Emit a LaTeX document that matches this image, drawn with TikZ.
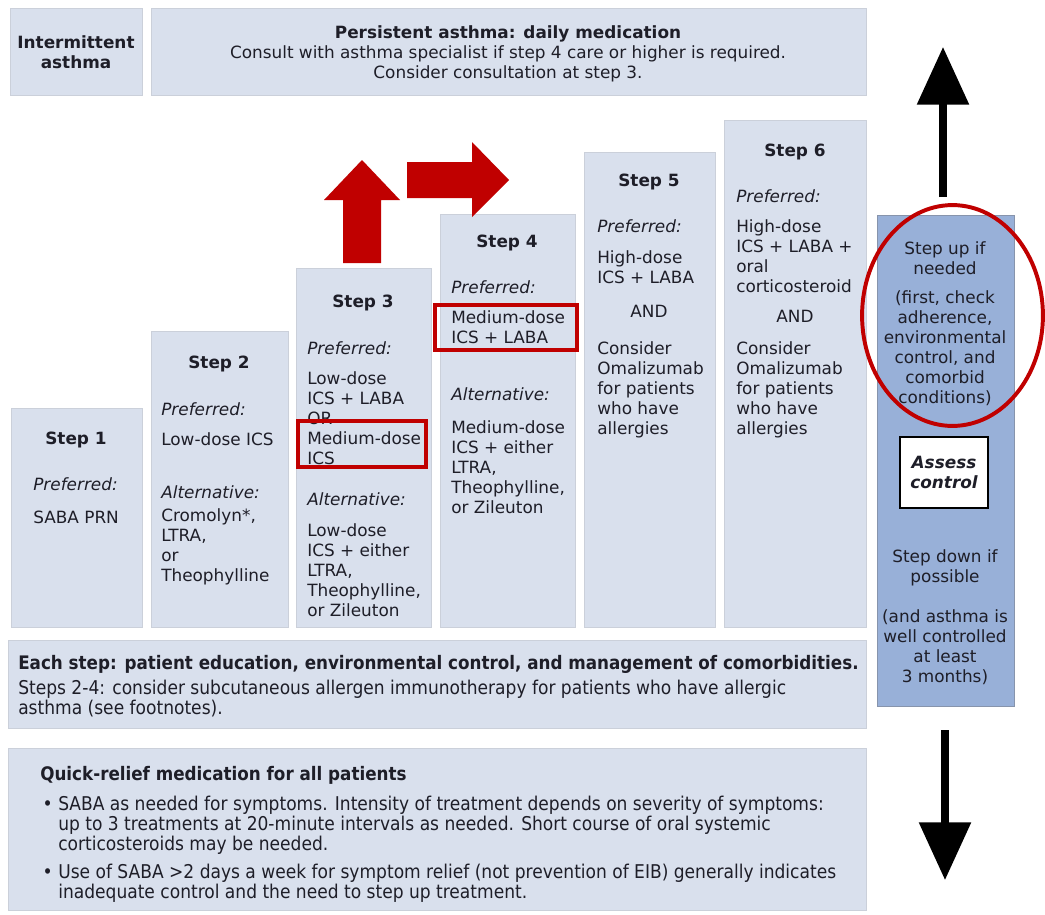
\documentclass[tikz,border=0pt]{standalone}
\usepackage{fontspec}
\setmainfont{DejaVu Sans}
\newfontfamily\condfont{DejaVu Sans Condensed}
\usetikzlibrary{arrows.meta}
\definecolor{boxcolor}{RGB}{217,224,237}
\definecolor{boxedge}{RGB}{203,208,218}
\definecolor{assesscolor}{RGB}{152,176,216}
\definecolor{assessedge}{RGB}{135,148,172}
\definecolor{labelcolor}{RGB}{30,30,40}
\definecolor{markcolor}{RGB}{192,0,0}
\newcommand{\stepsize}{\fontsize{12}{14.3}\selectfont}
\newcommand{\notesize}{\condfont\fontsize{13.5}{14.3}\selectfont}
\newcommand{\noteboldsize}{\condfont\bfseries\fontsize{13.25}{14.3}\selectfont}
\tikzset{
panel/.style={
  fill=boxcolor,
  draw=boxedge,
  line width=0.5pt
},
steptitle/.style={
  font=\bfseries\stepsize,
  text=labelcolor,
  inner sep=0pt,
  anchor=north
},
stephead/.style={
  font=\itshape\stepsize,
  text=labelcolor,
  inner sep=0pt,
  anchor=north west
},
steptext/.style={
  font=\stepsize,
  text=labelcolor,
  inner sep=0pt,
  anchor=north west,
  align=left
},
sidetext/.style={
  font=\stepsize,
  text=labelcolor,
  inner sep=0pt,
  anchor=north,
  align=center
},
notetext/.style={
  font=\notesize,
  text=labelcolor,
  inner sep=0pt,
  anchor=north west,
  align=left
},
highlight/.style={
  draw=markcolor,
  line width=2.8pt
},
blockarrow/.style={
  fill=markcolor
},
bigarrow/.style={
  -{Triangle[length=41pt,width=36pt]},
  line width=5pt,
  draw=black
}
}

\begin{document}
\begin{tikzpicture}[x=0.025cm, y=-0.025cm]
\useasboundingbox (0,0) rectangle (1045,914);
\fill[white] (0,0) rectangle (1045,914);

% header row
\path[panel] (10,8) rectangle (142,95);
\path[panel] (151,8) rectangle (866,95);
\node[sidetext, font=\bfseries\stepsize] (intermittent) at (76,35) {Intermittent\\asthma};
\node[sidetext] (persistent) at (508,25) {\textbf{Persistent asthma: daily medication}\\Consult with asthma specialist if step 4 care or higher is required.\\Consider consultation at step 3.};

% the six steps
\path[panel] (11,408) rectangle (142,627);
\path[panel] (151,331) rectangle (288,627);
\path[panel] (296,268) rectangle (431,627);
\path[panel] (440,214) rectangle (575,627);
\path[panel] (584,152) rectangle (715,627);
\path[panel] (724,120) rectangle (866,627);

\node[steptitle] (s1title) at (76,432) {Step 1};
\node[stephead] (s1pref) at (33,477) {Preferred:};
\node[steptext] (s1text) at (33,511) {SABA PRN};

\node[steptitle] (s2title) at (219,356) {Step 2};
\node[stephead] (s2pref) at (161,402) {Preferred:};
\node[steptext] (s2text) at (161,432) {Low-dose ICS};
\node[stephead] (s2alt) at (161,485) {Alternative:};
\node[steptext] (s2alttext) at (161,508) {Cromolyn*,\\LTRA,\\or\\Theophylline};

\node[steptitle] (s3title) at (363,295) {Step 3};
\node[stephead] (s3pref) at (307,341) {Preferred:};
\node[steptext] (s3text) at (307,371) {Low-dose\\ICS + LABA\\OR\\Medium-dose\\ICS};
\node[stephead] (s3alt) at (307,492) {Alternative:};
\node[steptext] (s3alttext) at (307,523) {Low-dose\\ICS + either\\LTRA,\\Theophylline,\\or Zileuton};

\node[steptitle] (s4title) at (507,235) {Step 4};
\node[stephead] (s4pref) at (451,280) {Preferred:};
\node[steptext] (s4text) at (451,310) {Medium-dose\\ICS + LABA};
\node[stephead] (s4alt) at (451,387) {Alternative:};
\node[steptext] (s4alttext) at (451,420) {Medium-dose\\ICS + either\\LTRA,\\Theophylline,\\or Zileuton};

\node[steptitle] (s5title) at (649,174) {Step 5};
\node[stephead] (s5pref) at (597,219) {Preferred:};
\node[steptext] (s5text) at (597,250) {High-dose\\ICS + LABA};
\node[steptitle, font=\stepsize] (s5and) at (649,305) {AND};
\node[steptext] (s5extra) at (597,341) {Consider\\Omalizumab\\for patients\\who have\\allergies};

\node[steptitle] (s6title) at (795,144) {Step 6};
\node[stephead] (s6pref) at (736,189) {Preferred:};
\node[steptext] (s6text) at (736,219) {High-dose\\ICS + LABA +\\oral\\corticosteroid};
\node[steptitle, font=\stepsize] (s6and) at (795,310) {AND};
\node[steptext] (s6extra) at (736,341) {Consider\\Omalizumab\\for patients\\who have\\allergies};

% notes below the steps
\path[panel] (8,640) rectangle (866,728);
\node[notetext, font=\noteboldsize] (eachstep) at (18,655) {Each step: patient education, environmental control, and management of comorbidities.};
\node[notetext] (immuno) at (18,680) {Steps 2-4: consider subcutaneous allergen immunotherapy for patients who have allergic\\asthma (see footnotes).};

\path[panel] (8,748) rectangle (866,910);
\node[notetext, font=\noteboldsize] (quickrelief) at (40,766) {Quick-relief medication for all patients};
\node[notetext] (saba1) at (58,796) {\llap{\textbullet\hspace{4pt}}SABA as needed for symptoms. Intensity of treatment depends on severity of symptoms:\\up to 3 treatments at 20-minute intervals as needed. Short course of oral systemic\\corticosteroids may be needed.};
\node[notetext] (saba2) at (58,864) {\llap{\textbullet\hspace{4pt}}Use of SABA >2 days a week for symptom relief (not prevention of EIB) generally indicates\\inadequate control and the need to step up treatment.};

% assess control column
\path[fill=assesscolor, draw=assessedge, line width=0.5pt] (877,215) rectangle (1014,706);
\node[sidetext] (stepup) at (945,241) {Step up if\\needed};
\node[sidetext] (stepupnote) at (945,290) {(first, check\\adherence,\\environmental\\control, and\\comorbid\\conditions)};
\node[draw=black, fill=white, line width=1pt, minimum width=2.2cm, minimum height=1.775cm, align=center, inner sep=0pt,
  font=\bfseries\itshape\stepsize, text=labelcolor] (assess) at (944,472.5) {Assess\\control};
\node[sidetext] (stepdown) at (945,549) {Step down if\\possible};
\node[sidetext] (stepdownnote) at (945,609) {(and asthma is\\well controlled\\at least\\3 months)};

% red marks
\draw[highlight] (298,421) rectangle (426,467);
\draw[highlight] (435,305) rectangle (577,350);
\draw[highlight] (952.5,315.5) ellipse [x radius=2.26cm, y radius=2.76cm];
\fill[blockarrow] (343,263) -- (343,200) -- (324,200) -- (362,160) -- (400,200) -- (381,200) -- (381,263) -- cycle;
\fill[blockarrow] (407,162) -- (472,162) -- (472,142) -- (509,180) -- (472,217) -- (472,198) -- (407,198) -- cycle;

% step up / step down
\coordinate (upfoot) at (943,197);
\coordinate (uphead) at (943,47);
\coordinate (downfoot) at (945,730);
\coordinate (downhead) at (945,880);
\draw[bigarrow] (upfoot) -- (uphead);
\draw[bigarrow] (downfoot) -- (downhead);
\end{tikzpicture}
\end{document}
